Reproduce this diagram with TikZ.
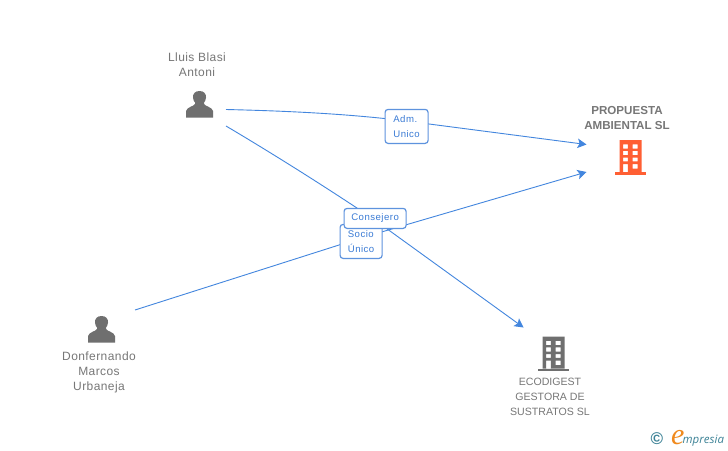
\documentclass[tikz,border=0pt]{standalone}
\usepackage{fontspec}
\setmainfont{Liberation Sans}
\newfontfamily\logofont{Open Sans}
\newfontfamily\logoefont{Liberation Serif}
\usetikzlibrary{arrows.meta}
\definecolor{edgeblue}{HTML}{4386DE}
\definecolor{boxblue}{HTML}{5E93DE}
\definecolor{labelblue}{HTML}{3A7BD5}
\definecolor{textgrey}{HTML}{777777}
\definecolor{icongrey}{HTML}{6F6F6F}
\definecolor{iconorange}{HTML}{FF5F33}
\definecolor{logoteal}{HTML}{3C8296}
\definecolor{logoorange}{HTML}{F08A1E}
\tikzset{
  x=1pt,y=-1pt,
  edge/.style={draw=edgeblue,line width=0.9pt},
  arrowed/.style={edge,-{Stealth[length=9pt,width=9.5pt,inset=2pt]}},
  tag/.style={draw=boxblue,line width=1.2pt,fill=white,rounded corners=3pt,inner sep=0pt,
     text=labelblue,font=\fontsize{9.6}{15}\selectfont\addfontfeature{LetterSpace=5},align=left,anchor=north west},
  caption/.style={text=textgrey,font=\fontsize{12}{15}\selectfont\addfontfeature{LetterSpace=3.5},align=center,inner sep=0pt},
  strong/.style={text=textgrey,font=\bfseries\fontsize{11.6}{15}\selectfont,align=center,inner sep=0pt},
  pics/person/.style={code={
    \fill[icongrey] (0,-13.5) .. controls (-4.5,-13.5) and (-6.8,-10.5) .. (-6.5,-7)
      .. controls (-6.3,-4.5) and (-5.5,-3) .. (-4.5,-2) -- (-4.5,-0.5)
      .. controls (-6,2) and (-12.5,2.5) .. (-13.5,6.5) -- (-13.5,13.2) -- (13.5,13.2) -- (13.5,6.5)
      .. controls (12.5,2.5) and (6,2) .. (4.5,-0.5) -- (4.5,-2)
      .. controls (5.5,-3) and (6.3,-4.5) .. (6.5,-7)
      .. controls (6.8,-10.5) and (4.5,-13.5) .. (0,-13.5) -- cycle;
  }},
  pics/building/.style={code={
    \fill[#1,even odd rule] (-11,-16.5) rectangle (11,15.5)
      (-7.3,-12.2) rectangle (-2.6,-8) (2.2,-12.2) rectangle (7,-8)
      (-7.3,-5.6) rectangle (-2.6,-1.5) (2.2,-5.6) rectangle (7,-1.5)
      (-7.3,1) rectangle (-2.6,4.8) (2.2,1) rectangle (7,4.8)
      (-7.3,7.5) rectangle (-2.6,15.5) (2.2,7.5) rectangle (7,12);
    \fill[#1] (-16,15.5) rectangle (15.5,18);
  }},
}
\begin{document}
\begin{tikzpicture}
\useasboundingbox (0,0) rectangle (728,450);
\fill[white] (0,0) rectangle (728,450);

\coordinate (lluisA) at (226,109.5);
\coordinate (lluisB) at (226,126);
\coordinate (donf) at (135,310);
\coordinate (propA) at (586.5,144.5);
\coordinate (propB) at (586.5,172);
\coordinate (eco) at (523.5,327.5);
\coordinate (admIn) at (406,121);
\coordinate (consIn) at (372,218);
\coordinate (socioIn) at (361,238);

\draw[edge] (lluisA) .. controls (290,111) and (350,114) .. (admIn);
\draw[arrowed] (admIn) -- (propA);
\draw[edge] (lluisB) .. controls (280,158) and (330,190) .. (consIn);
\draw[arrowed] (consIn) -- (eco);
\draw[edge] (donf) -- (socioIn);
\draw[arrowed] (socioIn) -- (propB);

\node[tag,minimum width=43pt,minimum height=34pt] (adm) at (384.5,108.8) {Adm.\\Unico};
\node[tag,minimum width=42pt,minimum height=34pt] (socio) at (339.5,223.8) {Socio\\Único};
\node[tag,minimum width=62pt,minimum height=20pt] (cons) at (343.5,207.8) {Consejero};

\pic at (199.5,104.5) {person};
\pic at (101.5,329.5) {person};
\pic at (630.5,156.5) {building=iconorange};
\pic at (553.5,353) {building=icongrey};

\node[caption] (nlluis) at (197,64.5) {Lluis Blasi\\Antoni};
\node[caption] (ndonf) at (99,372) {Donfernando\\Marcos\\Urbaneja};
\node[strong] (nprop) at (627,118) {PROPUESTA\\AMBIENTAL SL};
\node[caption,font=\fontsize{10.6}{15}\selectfont] (neco) at (550,397) {ECODIGEST\\GESTORA DE\\SUSTRATOS SL};

\node[text=logoteal,inner sep=0pt,font=\bfseries\fontsize{17}{17}\selectfont] (copy) at (657,439) {©};
\node[text=logoorange,inner sep=0pt,font=\logoefont\itshape\fontsize{30}{30}\selectfont,anchor=base west] (elogo) at (671,444.5) {e};
\node[text=logoteal,inner sep=0pt,font=\logofont\itshape\fontsize{11.5}{12}\selectfont,anchor=base west] (mlogo) at (682.5,443) {mpresia};
\end{tikzpicture}
\end{document}
